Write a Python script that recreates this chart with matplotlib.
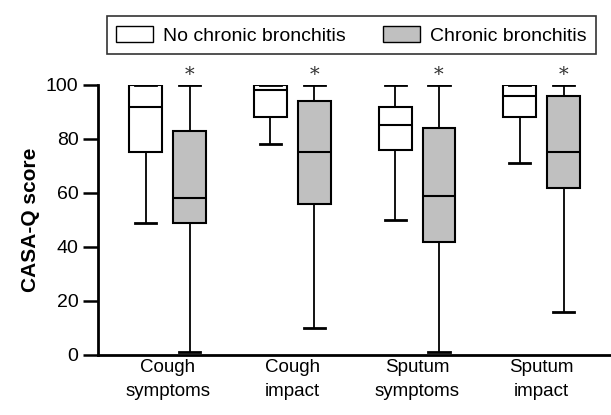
import numpy as np
import matplotlib
matplotlib.use("Agg")
import matplotlib.pyplot as plt
from matplotlib.patches import Patch

plt.rcParams['font.family'] = ['Liberation Sans', 'DejaVu Sans']

# Data (box plot summary values)
categories = ["Cough\nsymptoms", "Cough\nimpact", "Sputum\nsymptoms", "Sputum\nimpact"]

no_cb_low = [49, 78, 50, 71]
no_cb_q1 = [75, 88, 76, 88]
no_cb_med = [92, 98, 85, 96]
no_cb_q3 = [100, 100, 92, 100]
no_cb_high = [100, 100, 100, 100]

cb_low = [1, 10, 1, 16]
cb_q1 = [49, 56, 42, 62]
cb_med = [58, 75, 59, 75]
cb_q3 = [83, 94, 84, 96]
cb_high = [100, 100, 100, 100]

significant = [True, True, True, True]


def make_stats(low, q1, med, q3, high):
    return [dict(whislo=a, q1=b, med=c, q3=d, whishi=e, fliers=[])
            for a, b, c, d, e in zip(low, q1, med, q3, high)]


fig = plt.figure(figsize=(6.11, 4.15), dpi=100)
ax = fig.add_axes([0.1604, 0.1446, 0.8396, 0.6506])

x = np.arange(len(categories))
off = 0.176
w = 0.264
lw_box = 1.5
lw_wh = 1.3

for stats, pos, face in [
    (make_stats(no_cb_low, no_cb_q1, no_cb_med, no_cb_q3, no_cb_high), x - off, "white"),
    (make_stats(cb_low, cb_q1, cb_med, cb_q3, cb_high), x + off, "#c0c0c0"),
]:
    ax.bxp(stats, positions=pos, widths=w, capwidths=0.17, patch_artist=True,
           showfliers=False,
           boxprops=dict(facecolor=face, edgecolor="black", linewidth=lw_box),
           medianprops=dict(color="black", linewidth=lw_box),
           whiskerprops=dict(color="black", linewidth=lw_wh),
           capprops=dict(color="black", linewidth=lw_box + 0.5))

for xi, sig, top in zip(x + off, significant, cb_high):
    if sig:
        ax.text(xi, top + 0.5, "*", ha="center", va="bottom", fontsize=14,
                fontfamily="DejaVu Serif", color="#333333", clip_on=False)

ax.set_xlim(-0.56, 3.556)
ax.set_ylim(0, 100)
ax.set_yticks([0, 20, 40, 60, 80, 100])
ax.set_xticks(x)
ax.set_xticklabels(categories, fontsize=13.5, linespacing=1.5)
for lab in ax.get_xticklabels():
    lab.set_multialignment("center")
ax.tick_params(axis="x", length=0, pad=3)
ax.tick_params(axis="y", length=11, width=1.8, labelsize=14, pad=3)
ax.set_ylabel("CASA-Q score", fontsize=15, fontweight="bold", labelpad=4)

for s in ["top", "right"]:
    ax.spines[s].set_visible(False)
for s in ["left", "bottom"]:
    ax.spines[s].set_linewidth(2)

handles = [Patch(facecolor="white", edgecolor="black", linewidth=1),
           Patch(facecolor="#c0c0c0", edgecolor="black", linewidth=1)]
leg = fig.legend(handles, ["No chronic bronchitis", "Chronic bronchitis"],
                 loc="center", bbox_to_anchor=(0.575, 0.915), ncol=2,
                 fontsize=14, frameon=True, fancybox=False, edgecolor="black",
                 handlelength=1.9, handleheight=0.9, handletextpad=0.5,
                 columnspacing=1.9, borderpad=0.5)
leg.get_frame().set_linewidth(1.2)

fig.savefig("out.png", dpi=100)
